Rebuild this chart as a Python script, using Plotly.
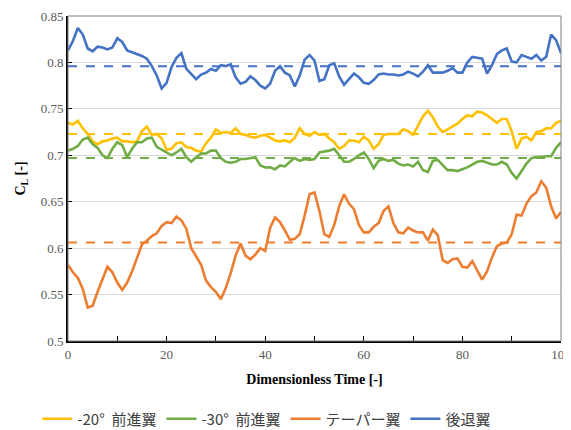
import plotly.graph_objects as go

time = list(range(0, 101))

fwd20 = [0.735, 0.733, 0.737, 0.729, 0.723, 0.715, 0.712, 0.715, 0.716, 0.718,
         0.719, 0.715, 0.715, 0.714, 0.715, 0.726, 0.731, 0.722, 0.723, 0.718,
         0.706, 0.707, 0.713, 0.714, 0.709, 0.708, 0.705, 0.704, 0.713, 0.719,
         0.728, 0.724, 0.725, 0.724, 0.729, 0.723, 0.722, 0.720, 0.719, 0.721,
         0.722, 0.719, 0.716, 0.715, 0.716, 0.714, 0.719, 0.729, 0.723, 0.721,
         0.725, 0.722, 0.723, 0.718, 0.714, 0.707, 0.710, 0.716, 0.716, 0.714,
         0.720, 0.716, 0.707, 0.712, 0.722, 0.723, 0.723, 0.723, 0.728, 0.726,
         0.722, 0.732, 0.742, 0.748, 0.741, 0.731, 0.725, 0.728, 0.731, 0.734,
         0.739, 0.743, 0.742, 0.747, 0.746, 0.743, 0.739, 0.735, 0.739, 0.739,
         0.726, 0.707, 0.718, 0.720, 0.716, 0.725, 0.726, 0.729, 0.729, 0.735,
         0.737]

fwd30 = [0.705, 0.707, 0.710, 0.717, 0.719, 0.712, 0.708, 0.700, 0.697, 0.707,
         0.714, 0.711, 0.698, 0.707, 0.714, 0.714, 0.718, 0.719, 0.709, 0.706,
         0.703, 0.700, 0.703, 0.707, 0.698, 0.693, 0.698, 0.702, 0.702, 0.705,
         0.705, 0.697, 0.693, 0.692, 0.693, 0.696, 0.696, 0.697, 0.698, 0.689,
         0.687, 0.687, 0.685, 0.689, 0.688, 0.693, 0.697, 0.694, 0.696, 0.695,
         0.696, 0.703, 0.704, 0.705, 0.707, 0.700, 0.693, 0.693, 0.696, 0.700,
         0.703, 0.696, 0.686, 0.694, 0.696, 0.694, 0.695, 0.691, 0.689, 0.690,
         0.688, 0.693, 0.684, 0.682, 0.694, 0.695, 0.689, 0.684, 0.684, 0.683,
         0.685, 0.687, 0.690, 0.693, 0.694, 0.692, 0.690, 0.690, 0.693, 0.690,
         0.681, 0.675, 0.683, 0.691, 0.697, 0.698, 0.698, 0.699, 0.699, 0.708,
         0.714]

taper = [0.582, 0.574, 0.568, 0.556, 0.536, 0.538, 0.553, 0.566, 0.580, 0.574,
         0.563, 0.555, 0.563, 0.575, 0.590, 0.604, 0.608, 0.613, 0.616, 0.624,
         0.628, 0.627, 0.634, 0.630, 0.621, 0.600, 0.591, 0.582, 0.565, 0.558,
         0.553, 0.545, 0.557, 0.573, 0.592, 0.605, 0.592, 0.588, 0.593, 0.600,
         0.597, 0.622, 0.633, 0.628, 0.619, 0.609, 0.610, 0.615, 0.635, 0.658,
         0.660, 0.640, 0.615, 0.612, 0.625, 0.645, 0.658, 0.648, 0.642, 0.625,
         0.617, 0.617, 0.623, 0.627, 0.640, 0.645, 0.627, 0.617, 0.616, 0.622,
         0.619, 0.617, 0.617, 0.608, 0.620, 0.614, 0.587, 0.584, 0.588, 0.589,
         0.580, 0.579, 0.586, 0.576, 0.566, 0.575, 0.590, 0.602, 0.605, 0.606,
         0.615, 0.636, 0.635, 0.648, 0.656, 0.660, 0.672, 0.665, 0.645, 0.632,
         0.639]

swept = [0.813, 0.823, 0.837, 0.830, 0.815, 0.812, 0.817, 0.816, 0.814, 0.816,
         0.826, 0.822, 0.813, 0.811, 0.809, 0.807, 0.804, 0.796, 0.786, 0.772,
         0.778, 0.795, 0.805, 0.810, 0.793, 0.787, 0.782, 0.787, 0.789, 0.793,
         0.791, 0.797, 0.796, 0.798, 0.784, 0.777, 0.779, 0.785, 0.781, 0.775,
         0.772, 0.777, 0.791, 0.796, 0.789, 0.786, 0.774, 0.786, 0.803, 0.808,
         0.802, 0.780, 0.782, 0.797, 0.799, 0.785, 0.776, 0.782, 0.788, 0.784,
         0.778, 0.777, 0.781, 0.787, 0.788, 0.787, 0.787, 0.786, 0.787, 0.790,
         0.788, 0.785, 0.790, 0.797, 0.789, 0.789, 0.789, 0.791, 0.794, 0.789,
         0.789, 0.800, 0.806, 0.805, 0.804, 0.788, 0.797, 0.809, 0.813, 0.815,
         0.801, 0.800, 0.808, 0.806, 0.804, 0.808, 0.802, 0.806, 0.830, 0.824,
         0.810]

names = ["-20°  前進翼", "-30°  前進翼", "テーパー翼", "後退翼"]
means = [0.723, 0.697, 0.606, 0.796]
colors = ["#FFC000", "#70AD47", "#ED7D31", "#4472C4"]
series = [fwd20, fwd30, taper, swept]

yticks = [0.5, 0.55, 0.6, 0.65, 0.7, 0.75, 0.8, 0.85]
yticktext = ["0.5", "0.55", "0.6", "0.65", "0.7", "0.75", "0.8", "0.85"]
xticks = [0, 20, 40, 60, 80, 100]

fig = go.Figure()
for name, vals, col in zip(names, series, colors):
    fig.add_trace(go.Scatter(x=time, y=vals, mode="lines", name=name,
                             line=dict(color=col, width=2.6)))
for m, col in zip(means, colors):
    fig.add_trace(go.Scatter(x=[time[0], time[-1]], y=[m, m], mode="lines",
                             showlegend=False, hoverinfo="skip",
                             line=dict(color=col, width=2, dash="dash")))

serif = "Liberation Serif"
# the page body adds an 8px offset, so the figure is sized to end at the window edge
fig.update_layout(
    width=563, height=422,
    margin=dict(l=60, r=10, t=8, b=89, autoexpand=False),
    paper_bgcolor="white", plot_bgcolor="white",
    xaxis=dict(range=[0, 100], tickvals=xticks, ticks="inside", ticklen=5,
               tickcolor="black", showgrid=False, zeroline=False,
               showline=True, linecolor="black", linewidth=2,
               automargin=False, ticklabeloverflow="allow",
               minor=dict(dtick=10, ticks="inside", ticklen=5, tickcolor="black"),
               tickfont=dict(family=serif, size=13, color="#595959"),
               title=dict(text="<b>Dimensionless Time [-]</b>",
                          font=dict(family=serif, size=14, color="black"),
                          standoff=14)),
    yaxis=dict(range=[0.5, 0.85], tickvals=yticks, ticktext=yticktext,
               ticks="inside", ticklen=4, tickcolor="black",
               showgrid=True, gridcolor="#D9D9D9", gridwidth=1, zeroline=False,
               showline=True, linecolor="black", linewidth=2,
               automargin=False,
               tickfont=dict(family=serif, size=13, color="#595959"),
               title=dict(text="<b>C<sub>L</sub> [-]</b>",
                          font=dict(family=serif, size=14, color="black"),
                          standoff=12)),
    legend=dict(orientation="h", xref="container", yref="container",
                x=0.052, xanchor="left", y=0.065, yanchor="top",
                font=dict(family="Noto Sans CJK JP", size=15, color="#404040"),
                itemwidth=30, tracegroupgap=0, bgcolor="rgba(0,0,0,0)"),
    showlegend=True,
)
fig.add_shape(type="rect", xref="paper", yref="paper", x0=0, y0=0, x1=1, y1=1,
              line=dict(color="#7F7F7F", width=1), layer="above")
fig.write_html("out.html")
